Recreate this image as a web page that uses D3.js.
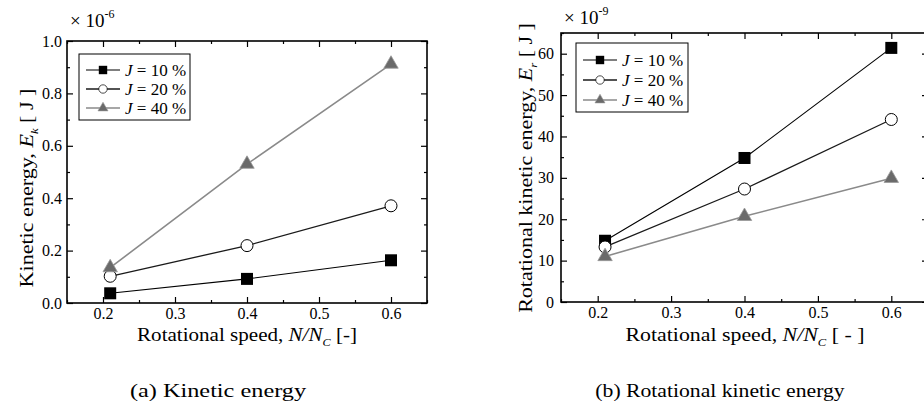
<!DOCTYPE html>
<html><head><meta charset="utf-8">
<script src="https://cdn.jsdelivr.net/npm/d3@7"></script>
<style>
html,body{margin:0;padding:0;background:#fff;}
svg{display:block;}
svg text{font-family:"Liberation Serif","Times New Roman",serif !important;}
</style></head>
<body>
<svg id="chart" width="924" height="407"></svg>
<script>
// ---- data ----
const speeds = [0.21, 0.40, 0.60];
const seriesNames = ["J = 10 %", "J = 20 %", "J = 40 %"];
const kineticJ10 = [0.037, 0.092, 0.163];
const kineticJ20 = [0.102, 0.219, 0.371];
const kineticJ40 = [0.135, 0.530, 0.912];
const rotJ10 = [14.8, 34.8, 61.4];
const rotJ20 = [13.3, 27.3, 44.1];
const rotJ40 = [11.0, 20.7, 29.9];
const xTicks = [0.2, 0.3, 0.4, 0.5, 0.6];
const kineticTicks = [0.0, 0.2, 0.4, 0.6, 0.8, 1.0];
const rotTicks = [0, 10, 20, 30, 40, 50, 60];

const svg = d3.select("#chart");
const styles = [
  {stroke: "#000", width: 1.1, marker: "square"},
  {stroke: "#1a1a1a", width: 1.3, marker: "circle"},
  {stroke: "#8a8a8a", width: 1.6, marker: "triangle"}
];

function marker(g, type, x, y) {
  if (type === "square") {
    g.append("rect").attr("x", x - 6).attr("y", y - 6).attr("width", 12).attr("height", 12).attr("fill", "#000");
  } else if (type === "circle") {
    g.append("circle").attr("cx", x).attr("cy", y).attr("r", 6).attr("fill", "#fff").attr("stroke", "#000").attr("stroke-width", 1);
  } else {
    const s = d3.symbol().type(d3.symbolTriangle).size(90);
    g.append("path").attr("d", s()).attr("transform", `translate(${x},${y})`)
      .attr("fill", "#6a6a6a").attr("stroke", "#999").attr("stroke-width", 0.8);
  }
}

function fitted(x, y, rot, target, build) {
  const g = svg.append("g");
  const t = g.append("text").attr("text-anchor", "middle").attr("font-size", 19);
  build(t);
  const w = t.node().getBBox().width;
  const sx = target / w;
  g.attr("transform", `translate(${x},${y}) rotate(${rot}) scale(${sx},1)`);
  return g;
}

function panel(cfg) {
  const g = svg.append("g").attr("transform", `translate(${cfg.left},${cfg.top})`);
  const W = cfg.width, H = cfg.height;
  const x = d3.scaleLinear().domain([0.15, 0.65]).range([0, W]);
  const y = d3.scaleLinear().domain(cfg.yDomain).range([H, 0]);

  const minorX = d3.range(0.15, 0.6501, 0.05).filter(v => !xTicks.some(t => Math.abs(t - v) < 1e-6));
  const minorY = d3.range(cfg.yDomain[0], cfg.yDomain[1] + 1e-9, cfg.minorStep).filter(v => !cfg.yTicks.some(t => Math.abs(t - v) < 1e-6));

  g.append("g").attr("transform", `translate(0,${H})`)
    .call(d3.axisBottom(x).tickValues(xTicks).tickFormat(d3.format(".1f")).tickSizeInner(-6).tickSizeOuter(0).tickPadding(5));
  g.append("g").attr("transform", `translate(0,${H})`)
    .call(d3.axisBottom(x).tickValues(minorX).tickFormat("").tickSizeInner(-3).tickSizeOuter(0));
  g.append("g").call(d3.axisTop(x).tickValues(xTicks).tickFormat("").tickSizeInner(-6).tickSizeOuter(0));
  g.append("g").call(d3.axisTop(x).tickValues(minorX).tickFormat("").tickSizeInner(-3).tickSizeOuter(0));
  g.append("g").call(d3.axisLeft(y).tickValues(cfg.yTicks).tickFormat(cfg.yFormat).tickSizeInner(-6).tickSizeOuter(0).tickPadding(cfg.yPad));
  g.append("g").call(d3.axisLeft(y).tickValues(minorY).tickFormat("").tickSizeInner(-3).tickSizeOuter(0));
  g.append("g").attr("transform", `translate(${W},0)`).call(d3.axisRight(y).tickValues(cfg.yTicks).tickFormat("").tickSizeInner(-6).tickSizeOuter(0));
  g.append("g").attr("transform", `translate(${W},0)`).call(d3.axisRight(y).tickValues(minorY).tickFormat("").tickSizeInner(-3).tickSizeOuter(0));

  g.selectAll(".domain").remove();
  g.selectAll(".tick line").attr("stroke", "#000").attr("stroke-width", 1.2);
  g.selectAll(".tick text").attr("font-size", 16).attr("fill", "#000");

  g.append("rect").attr("x", 0).attr("y", 0).attr("width", W).attr("height", H)
    .attr("fill", "none").attr("stroke", "#000").attr("stroke-width", 1.6);

  const line = d3.line().x((d, i) => x(speeds[i])).y(d => y(d));
  cfg.series.forEach((vals, k) => {
    const st = styles[k];
    g.append("path").datum(vals).attr("d", line).attr("fill", "none")
      .attr("stroke", st.stroke).attr("stroke-width", st.width);
  });
  cfg.series.forEach((vals, k) => {
    const mg = g.append("g");
    vals.forEach((v, i) => marker(mg, styles[k].marker, x(speeds[i]), y(v)));
  });

  const L = cfg.legend;
  const lg = g.append("g").attr("transform", `translate(${L.x},${L.y})`);
  lg.append("rect").attr("width", L.w).attr("height", L.h).attr("fill", "#fff").attr("stroke", "#000").attr("stroke-width", 1);
  seriesNames.forEach((name, k) => {
    const yy = L.row0 + k * L.dy;
    lg.append("line").attr("x1", 7).attr("x2", 41).attr("y1", yy).attr("y2", yy)
      .attr("stroke", styles[k].stroke).attr("stroke-width", styles[k].width);
    const mg = lg.append("g").attr("transform", `translate(24,${yy}) scale(0.7)`);
    marker(mg, styles[k].marker, 0, 0);
    const t = lg.append("text").attr("x", 46).attr("y", yy + 5.5).attr("font-size", 17);
    t.append("tspan").attr("font-style", "italic").text("J");
    t.append("tspan").text(name.slice(1));
  });

  const mt = svg.append("text").attr("x", cfg.left + cfg.mult.dx).attr("y", cfg.top + cfg.mult.dy).attr("font-size", 19);
  mt.append("tspan").text("\u00d7 10");
  mt.append("tspan").attr("font-size", 12).attr("dy", -9).text(cfg.mult.exp);

  fitted(cfg.xlab.x, cfg.xlab.y, 0, cfg.xlab.w, t => {
    t.append("tspan").text("Rotational speed, ");
    t.append("tspan").attr("font-style", "italic").text("N/N");
    t.append("tspan").attr("font-style", "italic").attr("font-size", 11).attr("dy", 5).text("C");
    t.append("tspan").attr("dy", -5).text(cfg.xlab.tail);
  });

  fitted(cfg.ylab.x, cfg.ylab.y, -90, cfg.ylab.w, t => {
    t.append("tspan").text(cfg.ylab.text);
    t.append("tspan").attr("font-style", "italic").text("E");
    t.append("tspan").attr("font-style", "italic").attr("font-size", 11).attr("dy", 5).text(cfg.ylab.sub);
    t.append("tspan").attr("dy", -5).text(" [ J ]");
  });

  fitted(cfg.cap.x, cfg.cap.y, 0, cfg.cap.w, t => t.text(cfg.cap.text));
}

panel({
  left: 67, top: 41, width: 360, height: 262,
  yDomain: [0, 1.0], yTicks: kineticTicks, minorStep: 0.1, yFormat: d3.format(".1f"), yPad: 5,
  series: [kineticJ10, kineticJ20, kineticJ40],
  legend: {x: 12, y: 13, w: 111, h: 66, row0: 16, dy: 19},
  mult: {dx: 3, dy: -14, exp: "-6"},
  xlab: {x: 247, y: 341, w: 220, tail: " [-]"},
  ylab: {x: 33, y: 188, w: 199, text: "Kinetic energy, ", sub: "k"},
  cap: {x: 218, y: 397, w: 177, text: "(a) Kinetic energy"}
});

panel({
  left: 561, top: 33, width: 367, height: 269,
  yDomain: [0, 65], yTicks: rotTicks, minorStep: 5, yFormat: d3.format("d"), yPad: 7,
  series: [rotJ10, rotJ20, rotJ40],
  legend: {x: 15, y: 10, w: 112, h: 69, row0: 17, dy: 20},
  mult: {dx: 3, dy: -9, exp: "-9"},
  xlab: {x: 745, y: 341, w: 239, tail: "  [ - ]"},
  ylab: {x: 532, y: 168, w: 290, text: "Rotational kinetic energy, ", sub: "r"},
  cap: {x: 720, y: 397, w: 250, text: "(b) Rotational kinetic energy"}
});
</script>
</body></html>
